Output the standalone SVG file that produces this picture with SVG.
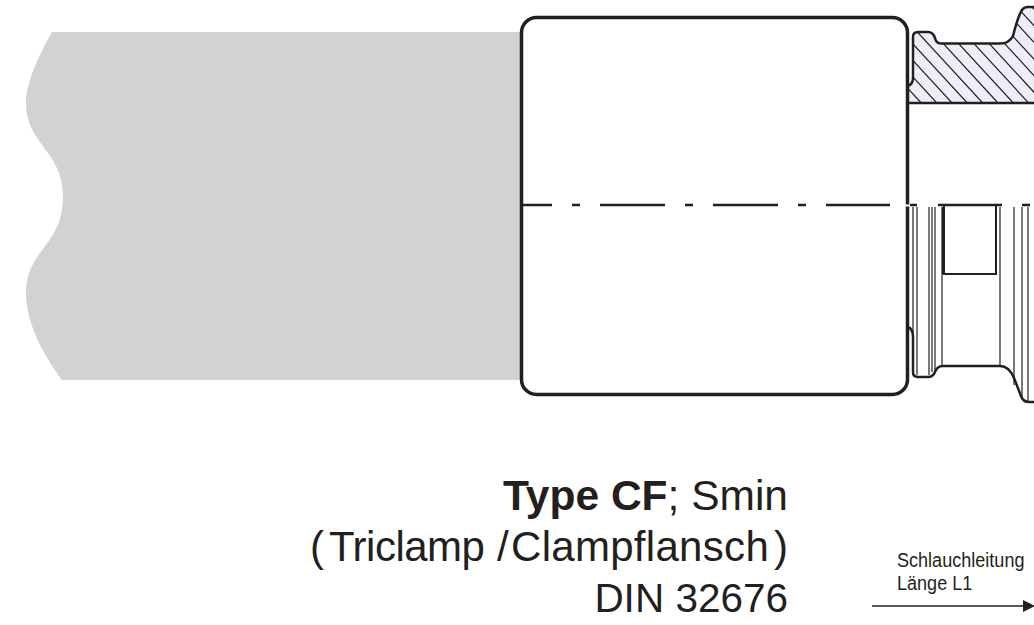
<svg xmlns="http://www.w3.org/2000/svg" width="1034" height="625" viewBox="0 0 1034 625">
<style>
.o{fill:none;stroke:#231f20;stroke-width:2.500;stroke-linejoin:round}
.m{fill:none;stroke:#231f20;stroke-width:2}
.t{fill:none;stroke:#58585a;stroke-width:1.600}
.h{fill:none;stroke:#231f20;stroke-width:1.200}
.b{font-family:"Liberation Sans",Arial,sans-serif;font-size:40.5px;fill:#231f20;text-anchor:end}
.l{font-family:"Liberation Sans",Arial,sans-serif;font-size:42px;fill:#231f20}
.s{font-family:"Liberation Sans",Arial,sans-serif;font-size:21px;fill:#231f20}
</style>
<defs>
<clipPath id="fc"><path d="M908 103L908 86L913 79L913 37Q913 32 918 32L928 32Q933 32 935 38Q936 43.500 941 43.500L1000 43.500Q1009 43.500 1013 36Q1018 16 1022 10Q1024 7 1028 7L1034 7L1034 103Z"/></clipPath>
<marker id="ah" markerWidth="14" markerHeight="12" refX="0" refY="6" orient="auto" markerUnits="userSpaceOnUse"><path d="M0 0L12 6L0 12Z" fill="#231f20"/></marker>
</defs>
<g id="hose"><path d="M52 32C36 60 26 85 26 103C26 145 63 150 63 197C63 245 26 250 26 293C26 320 40 350 62 380L525 380L525 32Z" fill="#d0d2d3"/></g>
<g id="flange">
<path d="M908 103L908 86L913 79L913 37Q913 32 918 32L928 32Q933 32 935 38Q936 43.500 941 43.500L1000 43.500Q1009 43.500 1013 36Q1018 16 1022 10Q1024 7 1028 7L1034 7L1034 103Z" fill="#efedf8"/>
<g clip-path="url(#fc)" class="h">
<path d="M826.500 0l94.800 103M842 0l94.800 103M857.300 0l94.800 103M872.500 0l94.800 103M887.900 0l94.800 103M903.200 0l94.800 103M918.500 0l94.800 103M933.800 0l94.800 103M949.100 0l94.800 103M964.500 0l94.800 103M979.500 0l94.800 103M995.100 0l94.800 103M1010.500 0l94.800 103M1025.500 0l94.800 103"/>
</g>
<path class="o" d="M908 86Q913 84 913 78L913 37Q913 32 918 32L928 32Q933 32 935 38Q936 43.500 941 43.500L1000 43.500Q1009 43.500 1013 36Q1018 16 1022 10Q1024 7 1028 7L1034 7"/>
<path class="o" d="M908 103L1034 103"/>
</g>
<g id="coupling-lower">
<path class="t" d="M913 207V375M917 207V375M929 207V375M932 207V372M935 207V370M942 207V366M1000 207V366M1014 207V385M1022 207V398M1028 207V402"/>
<path class="o" d="M908 327Q913 329 913 337L913 372Q913 377 918 377L928 377Q933 377 935 372Q937 366 943 366L1000 366Q1009 366 1014 378L1021 396Q1023 402 1029 402L1034 402"/>
<path class="o" d="M910 205H917M938 205H1002M1022 205H1030"/>
<path class="m" d="M944 205V274H996V205"/>
<path d="M943.500 207V274" stroke="#231f20" stroke-width="3" fill="none"/>
</g>
<g id="sleeve"><rect x="521.500" y="17.500" width="386" height="377" rx="15" ry="15" style="fill:#fff;stroke:#231f20;stroke-width:3.500"/><path d="M907.500 204.500V206.500" stroke="#fff" stroke-width="5" fill="none"/></g>
<g id="connectors">
<path d="M521 205H552M572 205H580M600 205H665M685 205H693M713 205H778M798 205H806M826 205H890" stroke="#231f20" stroke-width="2.500" fill="none"/>
<path d="M872 606H1023" stroke="#231f20" stroke-width="1.500" fill="none" marker-end="url(#ah)"/>
</g>
<g id="title">
<text class="b" x="788" y="510" style="font-size:42.500px"><tspan font-weight="bold">Type CF</tspan>; Smin</text>
<text class="l" y="561"><tspan x="310">(</tspan><tspan x="329" letter-spacing="-.5">Triclamp</tspan><tspan x="497">/</tspan><tspan x="511" letter-spacing=".3">Clampflansch</tspan><tspan x="774">)</tspan></text>
<text class="b" x="788" y="612">DIN 32676</text>
</g>
<g id="length-label">
<text class="s" transform="translate(897 567) scale(.86 1)">Schlauchleitung</text>
<text class="s" transform="translate(897 590) scale(.86 1)">Länge L1</text>
</g>
</svg>
